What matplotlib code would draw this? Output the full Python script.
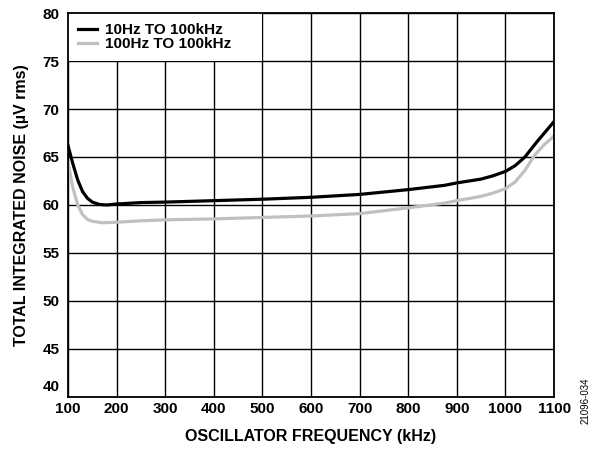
import matplotlib
matplotlib.use('Agg')
import matplotlib.pyplot as plt
import matplotlib.transforms as mtransforms
from matplotlib.patches import Rectangle

plt.rcParams['font.family'] = ['Liberation Sans', 'DejaVu Sans']
plt.rcParams['font.weight'] = 'bold'

# frequency (kHz) and total integrated noise (uV rms)
freq_10hz = [100, 110, 120, 130, 140, 150, 165, 180, 200, 250, 300, 400, 500,
             600, 700, 800, 875, 900, 950, 975, 1000, 1020, 1040, 1065, 1080, 1100]
noise_10hz = [66.2, 64.3, 62.6, 61.4, 60.7, 60.3, 60.05, 60.0, 60.1, 60.25, 60.3,
              60.45, 60.6, 60.8, 61.1, 61.6, 62.05, 62.3, 62.7, 63.05, 63.5, 64.1,
              65.0, 66.6, 67.5, 68.7]

freq_100hz = [100, 110, 120, 130, 140, 150, 170, 200, 250, 300, 400, 500,
              600, 700, 800, 875, 900, 950, 975, 1000, 1020, 1040, 1060, 1078, 1100]
noise_100hz = [64.5, 61.8, 60.0, 59.0, 58.5, 58.3, 58.15, 58.2, 58.35, 58.45, 58.55,
               58.7, 58.85, 59.1, 59.7, 60.2, 60.45, 60.9, 61.25, 61.7, 62.4, 63.6,
               65.2, 66.2, 67.2]

xticks = list(range(100, 1101, 100))
yticks = list(range(40, 81, 5))

fig = plt.figure(figsize=(5.99, 4.5), dpi=100)
ax = fig.add_axes([0.1135, 0.118, 0.8115, 0.853])

ax.plot(freq_10hz, noise_10hz, color='black', lw=2.3, zorder=3, label='10Hz TO 100kHz')
ax.plot(freq_100hz, noise_100hz, color='#c0c0c0', lw=2.3, zorder=2, label='100Hz TO 100kHz')

ax.set_xlim(100, 1100)
ax.set_ylim(40, 80)
ax.set_xticks(xticks)
ax.set_yticks(yticks)
ax.grid(True, color='black', lw=1.0)
ax.set_axisbelow(True)
ax.tick_params(length=0, labelsize=11)
ax.tick_params(axis='x', pad=4)
ax.tick_params(axis='y', pad=6)
for lab in ax.get_xticklabels() + ax.get_yticklabels():
    lab.set_fontweight('bold')
for s in ax.spines.values():
    s.set_linewidth(1.3)

# lift the "40" label a bit like the original
lab40 = ax.get_yticklabels()[0]
lab40.set_transform(lab40.get_transform() +
                    mtransforms.ScaledTranslation(0, 8 / 72, fig.dpi_scale_trans))

# white box behind legend hides grid lines
ax.add_patch(Rectangle((100, 75), 400, 5, facecolor='white', edgecolor='none', zorder=1))

leg = ax.legend(loc='upper left', frameon=False, handlelength=1.25,
                handletextpad=0.5, labelspacing=0.0, borderaxespad=0.25,
                borderpad=0.4, prop={'weight': 'bold', 'size': 11})

ax.set_xlabel('OSCILLATOR FREQUENCY (kHz)', fontsize=11.5, fontweight='bold', labelpad=9)
ax.set_ylabel('TOTAL INTEGRATED NOISE (µV rms)', fontsize=11.5, fontweight='bold', labelpad=10)

fig.text(0.977, 0.11, '21096-034', rotation=90, fontsize=7, fontweight='normal',
         ha='center', va='center')

fig.savefig('out.png', dpi=100)
